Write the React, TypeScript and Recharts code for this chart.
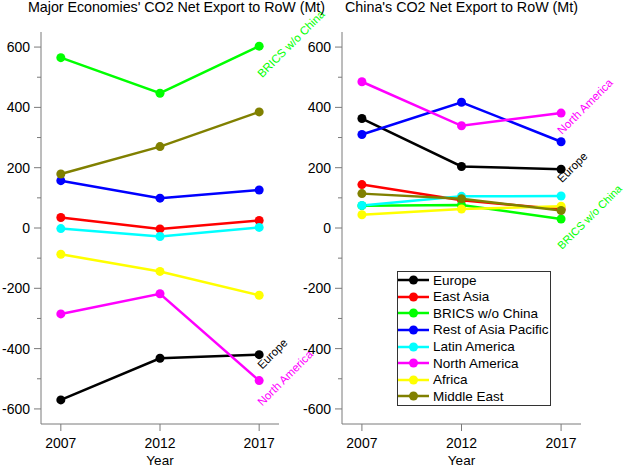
import { LineChart, Line, XAxis, YAxis, Legend, LabelList, Label } from 'recharts';

const years = [2007, 2012, 2017];
const regions = ['Europe', 'East Asia', 'BRICS w/o China', 'Rest of Asia Pacific', 'Latin America', 'North America', 'Africa', 'Middle East'];
const yTicks = [-600, -500, -400, -300, -200, -100, 0, 100, 200, 300, 400, 500, 600];

// Mt CO2, one row per region (same order as regions), columns follow years
const majorNet = [
  [-570, -432, -420],
  [35, -3, 25],
  [565, 447, 603],
  [157, 99, 126],
  [-2, -28, 2],
  [-285, -218, -506],
  [-87, -144, -223],
  [179, 270, 385],
];
const chinaNet = [
  [363, 204, 195],
  [144, 92, 62],
  [74, 76, 30],
  [310, 417, 286],
  [75, 105, 106],
  [485, 339, 381],
  [44, 63, 72],
  [114, 97, 58],
];

const colors = ['#000000', '#ff0000', '#00ff00', '#0000ff', '#00ffff', '#ff00ff', '#ffff00', '#808000'];
const FONT = '"Liberation Sans", Arial, sans-serif';
const AXIS = '#7a7a7a';
const AXIS_W = 41;

const toRows = (vals: number[][]) =>
  years.map((year, i) => {
    const row: any = { year };
    regions.forEach((r, j) => { row[r] = vals[j][i]; });
    return row;
  });

const YTick = ({ y, payload }: any) => {
  const major = payload.value % 200 === 0;
  return (
    <g>
      <line x1={AXIS_W - (major ? 7 : 4)} x2={AXIS_W} y1={y} y2={y} stroke={AXIS} />
      {major && (
        <text x={AXIS_W - 11} y={y} dy={5} textAnchor="end" fill="#000" fontSize={14} fontFamily={FONT}>
          {payload.value}
        </text>
      )}
    </g>
  );
};

const note = (color: string, dx: number, dy: number, size: number, text: string) => (p: any) => {
  if (p.index !== 2) return null;
  const x = p.x + dx, y = p.y + dy;
  return (
    <text x={x} y={y} transform={`rotate(-45 ${x} ${y})`} fill={color} fontSize={size} fontFamily={FONT}>
      {text}
    </text>
  );
};

// legend keeps the series order of the reference (Recharts would sort it)
const LegendBox = () => (
  <div style={{ border: '1px solid #333', background: '#fff', width: 152, fontFamily: FONT }}>
    {regions.map((r, j) => (
      <div key={r} style={{ display: 'flex', alignItems: 'center', height: 16.6 }}>
        <svg width={33} height={12} style={{ display: 'block' }}>
          <line x1={0} x2={31} y1={6} y2={6} stroke={colors[j]} strokeWidth={2.5} />
          <circle cx={15.5} cy={6} r={4.5} fill={colors[j]} />
        </svg>
        <span style={{ marginLeft: 2, fontSize: 13.5, lineHeight: 1, color: '#000' }}>{r}</span>
      </div>
    ))}
  </div>
);

type Note = { region: string; dx: number; dy: number; size?: number };

function Panel({ vals, width, right, notes, legend }: {
  vals: number[][]; width: number; right: number; notes: Note[]; legend?: boolean;
}) {
  const data = toRows(vals);
  return (
    <LineChart width={width} height={467} data={data} margin={{ top: 32, right, bottom: 2, left: 0 }}>
      <XAxis dataKey="year" type="number" domain={[2006, 2018]} ticks={years} interval={0}
        stroke={AXIS} tickSize={7} tickMargin={7} height={41}
        tick={{ fill: '#000', fontSize: 14, fontFamily: FONT }}>
        <Label value="Year" position="insideBottom" offset={0} fill="#000" fontSize={13.5} fontFamily={FONT} />
      </XAxis>
      <YAxis type="number" domain={[-650, 650]} ticks={yTicks} interval={0} width={AXIS_W}
        stroke={AXIS} tickLine={false} tick={<YTick />} />
      {regions.map((r, j) => {
        const n = notes.find(x => x.region === r);
        return (
          <Line key={r} dataKey={r} name={r} type="linear" stroke={colors[j]} strokeWidth={2.5}
            dot={{ r: 4.5, fill: colors[j], stroke: colors[j], strokeWidth: 0 }} activeDot={false}
            isAnimationActive={false}>
            {n && <LabelList dataKey={r} content={note(colors[j], n.dx, n.dy, n.size ?? 11.5, r)} />}
          </Line>
        );
      })}
      {legend && (
        <Legend layout="vertical" align="center" verticalAlign="middle" content={<LegendBox />}
          wrapperStyle={{ left: 96, top: 271, width: 'auto', height: 'auto' }} />
      )}
    </LineChart>
  );
}

export default function App() {
  return (
    <div style={{ position: 'absolute', left: 0, top: 0, width: 625, height: 467, background: '#fff', overflow: 'hidden' }}>
      <div style={{ position: 'absolute', left: 0, top: 0 }}>
        <Panel vals={majorNet} width={330} right={51}
          notes={[
            { region: 'BRICS w/o China', dx: 3, dy: 32 },
            { region: 'Europe', dx: 3, dy: 15 },
            { region: 'North America', dx: 3, dy: 26 },
          ]} />
      </div>
      <div style={{ position: 'absolute', left: 301, top: 0 }}>
        <Panel vals={chinaNet} width={324} right={44} legend
          notes={[
            { region: 'North America', dx: 1, dy: 22 },
            { region: 'Europe', dx: 1, dy: 14 },
            { region: 'BRICS w/o China', dx: 1, dy: 31, size: 11 },
          ]} />
      </div>
      <svg width={625} height={20} style={{ position: 'absolute', left: 0, top: 0, pointerEvents: 'none' }}>
        <text x={28} y={12} fontSize={14.3} fontFamily={FONT} fill="#000" textLength={297} lengthAdjust="spacing">
          Major Economies' CO2 Net Export to RoW (Mt)
        </text>
        <text x={345} y={12} fontSize={14.3} fontFamily={FONT} fill="#000" textLength={233} lengthAdjust="spacing">
          China's CO2 Net Export to RoW (Mt)
        </text>
      </svg>
    </div>
  );
}
